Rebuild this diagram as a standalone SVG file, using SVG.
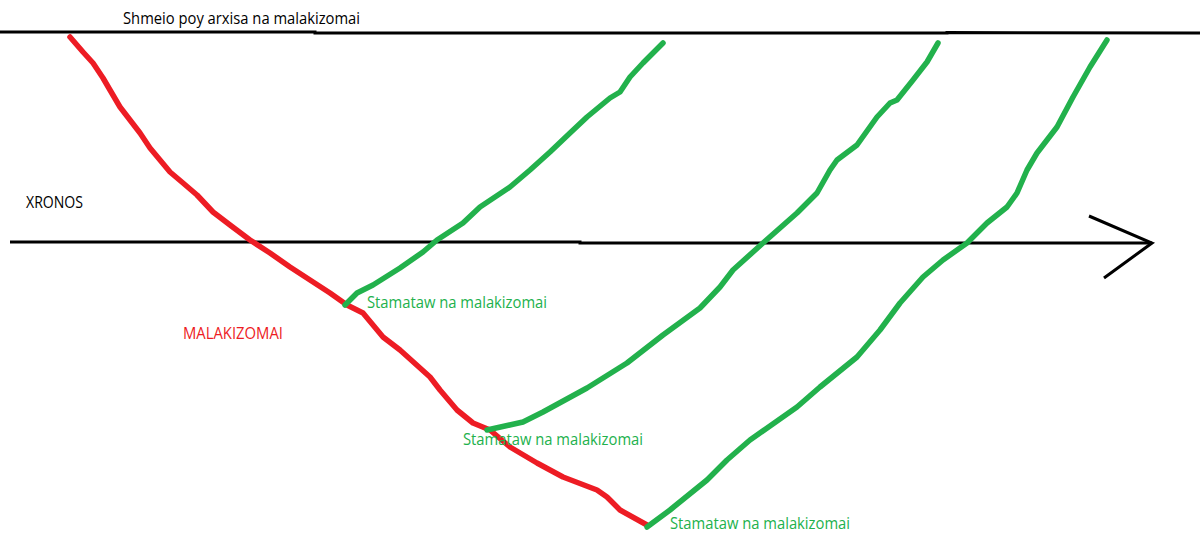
<svg xmlns="http://www.w3.org/2000/svg" width="1200" height="544" viewBox="0 0 1200 544">
<style>
.blk{fill:none;stroke:#000;stroke-width:3;stroke-linecap:butt}
.red{fill:none;stroke:#ed1c24;stroke-width:5.5;stroke-linecap:round;stroke-linejoin:round}
.grn{fill:none;stroke:#22b14c;stroke-width:5.5;stroke-linecap:round;stroke-linejoin:round}
.t{font-family:"Open Sans","Liberation Sans",sans-serif;font-size:16px}
.tk{fill:#000}
.tr{fill:#ed1c24}
.tg{fill:#22b14c}
</style>
<rect width="1200" height="544" fill="#fff"/>
<g id="top-line">
<polyline class="blk" points="0,32 315,32 315,33 947,33 947,32.5 1200,33"/>
</g>
<g id="time-axis">
<polyline class="blk" points="10,242 580,242 580,243 1152,243"/>
<polyline class="blk" points="1089,216 1152,243 1104,278" stroke-linejoin="miter"/>
</g>
<g id="red-curve">
<polyline class="red" points="70,37 83,52 93,63 103,78 110,90 120,107 130,120 140,133 150,148 160,160 170,172 183,183 197,195 213,212 230,225 250,240 270,253 290,267 310,280 330,293 347,305 363,313 383,337 400,350 430,377 440,390 457,410 473,423 490,430 510,447 537,463 563,477 597,490 607,497 620,510 647,525"/>
</g>
<g id="green-1">
<polyline class="grn" points="345,305 357,293 373,285 400,268 423,252 437,240 463,223 480,207 510,187 530,170 550,152 570,133 587,117 610,98 620,92 630,77 643,63 663,43"/>
</g>
<g id="green-2">
<polyline class="grn" points="487,430 523,422 543,412 587,388 627,363 663,335 700,308 720,287 733,270 763,243 797,213 817,193 830,170 837,160 857,145 877,117 890,103 897,100 913,80 927,62 938,43"/>
</g>
<g id="green-3">
<polyline class="grn" points="647,527 670,510 707,480 727,460 750,440 797,407 820,387 857,357 880,330 900,303 923,277 943,260 967,243 987,223 1007,207 1017,193 1027,170 1037,153 1057,127 1073,97 1090,67 1107,40"/>
</g>
<g id="labels">
<text class="t tk" x="123" y="24" textLength="237" lengthAdjust="spacingAndGlyphs">Shmeio poy arxisa na malakizomai</text>
<text class="t tk" x="26" y="208" textLength="57" lengthAdjust="spacingAndGlyphs">XRONOS</text>
<text class="t tr" x="183" y="339" textLength="100" lengthAdjust="spacingAndGlyphs">MALAKIZOMAI</text>
<text class="t tg" x="367" y="308" textLength="180" lengthAdjust="spacingAndGlyphs">Stamataw na malakizomai</text>
<text class="t tg" x="463" y="445" textLength="180" lengthAdjust="spacingAndGlyphs">Stamataw na malakizomai</text>
<text class="t tg" x="670" y="529" textLength="180" lengthAdjust="spacingAndGlyphs">Stamataw na malakizomai</text>
</g>
</svg>
